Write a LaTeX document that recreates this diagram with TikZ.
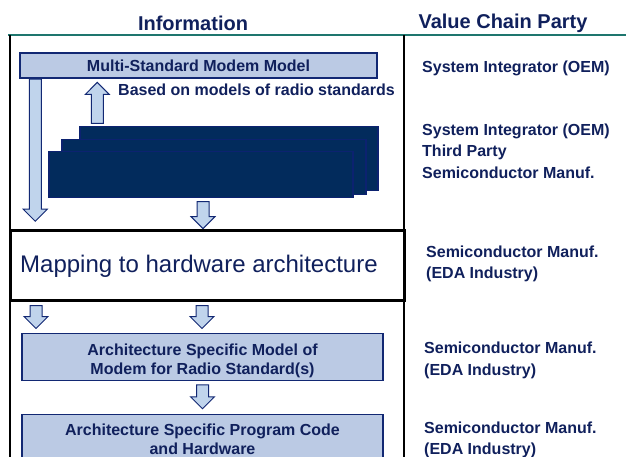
\documentclass[tikz,border=0pt]{standalone}
\usepackage{fontspec}
\setmainfont{Liberation Sans}
\usetikzlibrary{shapes.arrows, positioning}

\definecolor{navytext}{RGB}{16,32,92}
\definecolor{boxline}{RGB}{18,40,115}
\definecolor{boxfill}{RGB}{187,202,228}
\definecolor{arrowfill}{RGB}{192,212,236}
\definecolor{stackfill}{RGB}{2,43,92}
\definecolor{stackline}{RGB}{12,34,112}
\definecolor{headrule}{RGB}{30,118,110}

\begin{document}
\begin{tikzpicture}[x=1pt, y=-1pt,
  font=\bfseries\fontsize{16}{19}\selectfont, text=navytext,
  infobox/.style={draw=boxline, fill=boxfill, line width=1.5pt, inner sep=0pt, align=center},
  stackbox/.style={draw=stackline, fill=stackfill, line width=1.2pt},
  party/.style={anchor=west, align=left, inner sep=0pt, font=\bfseries\fontsize{16}{21.5}\selectfont},
  fatarrow/.style={single arrow, draw=boxline, fill=arrowfill, line width=1pt,
    inner sep=5.5pt, single arrow head extend=6pt, single arrow tip angle=90, minimum height=#1},
  downarrow/.style={fatarrow=#1, shape border rotate=270},
  uparrow/.style={fatarrow=#1, shape border rotate=90}]
\useasboundingbox (0,0) rectangle (626,457);

% column headings
\node (info) at (193,23) {\fontsize{20}{24}\selectfont Information};
\node (party) at (503,23) {\fontsize{20}{24}\selectfont Value Chain Party};
\draw[headrule, line width=2pt] (8,35) -- (626,35);
\draw[line width=1.5pt] (10,35) -- (10,457);
\draw[line width=1.5pt] (404,35) -- (404,457);

% information flow
\node[infobox, minimum width=357pt, minimum height=25pt] (mm) at (198.5,65.5) {Multi-Standard Modem Model};
\node[stackbox, minimum width=298pt, minimum height=64pt] (stackback) at (229,158.5) {};
\node[stackbox, minimum width=304pt, minimum height=55pt] (stackmid) at (214,167) {};
\node[stackbox, minimum width=304pt, minimum height=46pt] (stackfront) at (201,174.5) {};

\node[downarrow=142pt, anchor=tail] (a0) at ([xshift=16pt]mm.south west) {};
\node[uparrow=41pt, anchor=tip] (a1) at ([xshift=78pt, yshift=-3pt]mm.south west) {};
\node[anchor=west, inner sep=0pt] (based) at (118,90) {Based on models of radio standards};
\node[downarrow=27pt, anchor=tail] (a2) at ([xshift=2pt, yshift=-3pt]stackfront.south) {};

\node[draw=black, fill=white, line width=3pt, minimum width=394pt, minimum height=70pt] (map) at (207,265) {};
\node[anchor=west, inner sep=0pt, font=\mdseries\fontsize{24}{28}\selectfont] (maptext) at (20,266) {Mapping to hardware architecture};

\node[downarrow=23pt, anchor=tail] (a3) at (36,305) {};
\node[downarrow=23pt, anchor=tail] (a4) at (202,305) {};
\node[infobox, minimum width=361pt, minimum height=47pt] (am) at (202.5,357) {};
\node[align=center, inner sep=0pt] (amtext) at (202.5,361) {Architecture Specific Model of\\Modem for Radio Standard(s)};
\node[downarrow=24pt, anchor=tail] (a5) at ([yshift=-3pt]am.south) {};
\node[infobox, minimum width=361pt, minimum height=60pt, anchor=north] (pc) at ([yshift=-32.5pt]am.south) {};
\node[align=center, inner sep=0pt] (pctext) at (202.5,439) {Architecture Specific Program Code\\and Hardware};

% value chain parties
\node[party] (p1) at (422,68) {System Integrator (OEM)};
\node[party] (p2) at (422,151) {System Integrator (OEM)\\Third Party\\Semiconductor Manuf.};
\node[party] (p3) at (426,264) {Semiconductor Manuf.\\(EDA Industry)};
\node[party] (p4) at (424,360.5) {Semiconductor Manuf.\\(EDA Industry)};
\node[party] (p5) at (424,440) {Semiconductor Manuf.\\(EDA Industry)};
\end{tikzpicture}
\end{document}
